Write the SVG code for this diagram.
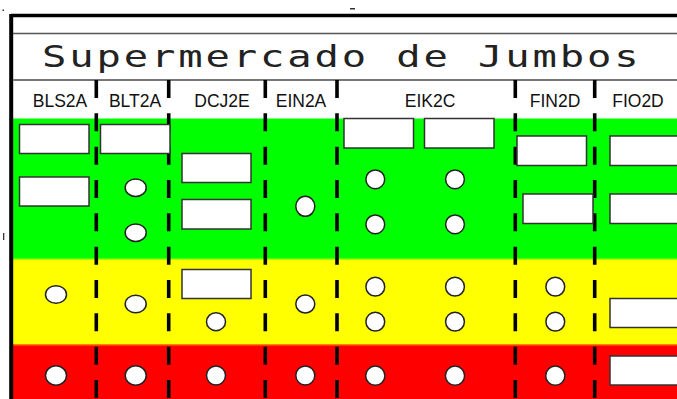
<svg xmlns="http://www.w3.org/2000/svg" width="677" height="399" viewBox="0 0 677 399">
<style>
.box{fill:#fff;stroke:#333;stroke-width:1.5}
.dot{fill:#fff;stroke:#222;stroke-width:1.5}
.lbl{font-family:"Liberation Sans",Arial,sans-serif;font-size:17.5px;fill:#111;text-anchor:middle}
.title{font-family:"DejaVu Sans ExtraLight","DejaVu Sans Mono",monospace;font-weight:200;font-size:30px;fill:#222}
.dash{stroke:#000;stroke-width:3.6;stroke-dasharray:18 15.33;fill:none}
</style>
<rect width="677" height="399" fill="#fff"/>
<g id="bands">
<rect x="12" y="118.5" width="665" height="141" fill="#00ff00"/>
<rect x="12" y="259.5" width="665" height="86" fill="#ffff00"/>
<rect x="12" y="258.5" width="665" height="1.5" fill="#aaff00"/>
<rect x="12" y="345" width="665" height="54" fill="#ff0000"/>
<rect x="12" y="344" width="665" height="1.5" fill="#ff7f00"/>
</g>
<g id="frame">
<line x1="11" y1="15.5" x2="677" y2="15.5" stroke="#000" stroke-width="3.5"/>
<line x1="11.2" y1="14" x2="11.2" y2="399" stroke="#000" stroke-width="4"/>
<line x1="13" y1="33.5" x2="677" y2="33.5" stroke="#555" stroke-width="1.6"/>
<line x1="13" y1="80" x2="677" y2="80" stroke="#777" stroke-width="2"/>
<rect x="2.5" y="9.5" width="1.5" height="1.5" fill="#333"/>
<rect x="350" y="8" width="5" height="1.5" fill="#333"/>
<rect x="3" y="233" width="1.3" height="7" fill="#333"/>
</g>
<g id="title">
<text class="title" transform="translate(42,67) scale(1.35,1)" textLength="442" lengthAdjust="spacing">Supermercado de Jumbos</text>
</g>
<g id="labels">
<text class="lbl" x="60" y="107">BLS2A</text>
<text class="lbl" x="135" y="107">BLT2A</text>
<text class="lbl" x="222" y="107">DCJ2E</text>
<text class="lbl" x="301" y="107">EIN2A</text>
<text class="lbl" x="430" y="107">EIK2C</text>
<text class="lbl" x="555" y="107">FIN2D</text>
<text class="lbl" x="638" y="107">FIO2D</text>
</g>
<g id="connectors">
<line class="dash" x1="96.3" y1="80" x2="96.3" y2="399"/>
<line class="dash" x1="168.7" y1="80" x2="168.7" y2="399"/>
<line class="dash" x1="265.3" y1="80" x2="265.3" y2="399"/>
<line class="dash" x1="337" y1="80" x2="337" y2="399"/>
<line class="dash" x1="515.3" y1="80" x2="515.3" y2="399"/>
<line class="dash" x1="594.7" y1="80" x2="594.7" y2="399"/>
</g>
<g id="BLS2A">
<rect id="BLS2A-r1" class="box" x="19.5" y="124.5" width="69.5" height="29"/>
<rect id="BLS2A-r2" class="box" x="19.5" y="177" width="69.5" height="29"/>
<ellipse id="BLS2A-c1" class="dot" cx="56" cy="294.5" rx="10.5" ry="8.8"/>
<ellipse id="BLS2A-c2" class="dot" cx="56" cy="375.5" rx="10.5" ry="9.7"/>
</g>
<g id="BLT2A">
<rect id="BLT2A-r1" class="box" x="100.5" y="124.5" width="69.5" height="29"/>
<ellipse id="BLT2A-c1" class="dot" cx="135.7" cy="187.7" rx="10.5" ry="8.8"/>
<ellipse id="BLT2A-c2" class="dot" cx="135.7" cy="232.7" rx="10.5" ry="8.8"/>
<ellipse id="BLT2A-c3" class="dot" cx="135.7" cy="304" rx="10.5" ry="8.8"/>
<ellipse id="BLT2A-c4" class="dot" cx="135.7" cy="375.5" rx="10.5" ry="9.7"/>
</g>
<g id="DCJ2E">
<rect id="DCJ2E-r1" class="box" x="182" y="153.5" width="69" height="29"/>
<rect id="DCJ2E-r2" class="box" x="182" y="199.5" width="69" height="29.5"/>
<rect id="DCJ2E-r3" class="box" x="182" y="269.5" width="69" height="29"/>
<ellipse id="DCJ2E-c1" class="dot" cx="216" cy="321.7" rx="9.5" ry="9"/>
<ellipse id="DCJ2E-c2" class="dot" cx="216" cy="375.5" rx="9.5" ry="9.5"/>
</g>
<g id="EIN2A">
<ellipse id="EIN2A-c1" class="dot" cx="305.3" cy="206.3" rx="9.5" ry="10"/>
<ellipse id="EIN2A-c2" class="dot" cx="305.3" cy="304" rx="9.5" ry="9"/>
<ellipse id="EIN2A-c3" class="dot" cx="305.3" cy="375.5" rx="9.5" ry="9.5"/>
</g>
<g id="EIK2C">
<rect id="EIK2C-r1" class="box" x="344" y="118.5" width="69.5" height="29.5"/>
<rect id="EIK2C-r2" class="box" x="424.5" y="118.5" width="69.5" height="29.5"/>
<circle id="EIK2C-c1" class="dot" cx="375.3" cy="179.3" r="9.4"/>
<circle id="EIK2C-c2" class="dot" cx="455" cy="179.3" r="9.4"/>
<circle id="EIK2C-c3" class="dot" cx="375.3" cy="224.3" r="9.4"/>
<circle id="EIK2C-c4" class="dot" cx="455" cy="224.3" r="9.4"/>
<circle id="EIK2C-c5" class="dot" cx="375.3" cy="286.7" r="9.4"/>
<circle id="EIK2C-c6" class="dot" cx="455" cy="286.7" r="9.4"/>
<circle id="EIK2C-c7" class="dot" cx="375.3" cy="321.7" r="9.4"/>
<circle id="EIK2C-c8" class="dot" cx="455" cy="321.7" r="9.4"/>
<circle id="EIK2C-c9" class="dot" cx="375.3" cy="375.7" r="9.6"/>
<circle id="EIK2C-c10" class="dot" cx="455" cy="375.7" r="9.6"/>
</g>
<g id="FIN2D">
<rect id="FIN2D-r1" class="box" x="517" y="136" width="69.5" height="29.5"/>
<rect id="FIN2D-r2" class="box" x="523" y="194" width="70" height="29.5"/>
<circle id="FIN2D-c1" class="dot" cx="555.3" cy="286.7" r="9.4"/>
<circle id="FIN2D-c2" class="dot" cx="555.3" cy="321.7" r="9.4"/>
<circle id="FIN2D-c3" class="dot" cx="555.3" cy="375.7" r="9.6"/>
</g>
<g id="FIO2D">
<rect id="FIO2D-r1" class="box" x="610" y="136" width="70" height="29.5"/>
<rect id="FIO2D-r2" class="box" x="610" y="194" width="70" height="29.5"/>
<rect id="FIO2D-r3" class="box" x="610" y="298.5" width="70" height="29"/>
<rect id="FIO2D-r4" class="box" x="610" y="356" width="70" height="29"/>
</g>
</svg>
